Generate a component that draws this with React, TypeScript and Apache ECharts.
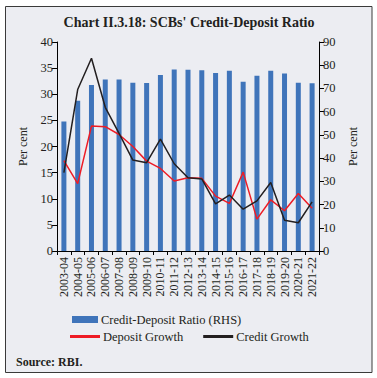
import React, { useEffect, useRef } from "react";
import * as echarts from "echarts";

const categories = [
  "2003-04", "2004-05", "2005-06", "2006-07", "2007-08", "2008-09", "2009-10",
  "2010-11", "2011-12", "2012-13", "2013-14", "2014-15", "2015-16", "2016-17",
  "2017-18", "2018-19", "2019-20", "2020-21", "2021-22",
];
const cdRatio = [55.8, 64.7, 71.5, 73.9, 73.8, 72.5, 72.3, 75.8, 78.2, 78.0, 77.8, 76.6, 77.6, 72.9, 75.5, 77.6, 76.4, 72.5, 72.2];
const depositGrowth = [17.3, 12.9, 23.9, 23.8, 22.3, 20.0, 17.2, 15.8, 13.4, 14.0, 13.9, 10.5, 9.1, 15.1, 6.1, 9.8, 7.7, 11.0, 8.2];
const creditGrowth = [15.0, 30.9, 36.9, 27.5, 22.5, 17.4, 16.9, 21.4, 16.7, 14.0, 13.8, 9.0, 10.7, 8.0, 9.6, 13.1, 5.9, 5.4, 9.4];

const SERIF = "'Liberation Serif', 'DejaVu Serif', serif";
const TXT = "#231f20";

export default function App() {
  const ref = useRef<HTMLDivElement>(null);
  useEffect(() => {
    if (!ref.current) return;
    const chart = echarts.init(ref.current, undefined, { renderer: "svg" });
    const axisCommon = {
      axisLine: { show: true, lineStyle: { color: "#000", width: 1 } },
      axisTick: { show: true, length: 5, lineStyle: { color: "#000" } },
      splitLine: { show: false },
      axisLabel: { fontFamily: SERIF, fontSize: 12.5, color: TXT, margin: 4 },
      nameLocation: "middle" as const,
      nameTextStyle: { fontFamily: SERIF, fontSize: 12, color: TXT },
    };
    chart.setOption({
      animation: false,
      backgroundColor: "#ffffff",
      graphic: [
        {
          type: "rect",
          shape: { x: 5.5, y: 6.5, width: 366.5, height: 366 },
          style: { fill: "#ecedf2", stroke: "#3a3a3a", lineWidth: 1 },
          z: -10,
          silent: true,
        },
        {
          type: "text",
          x: 189,
          y: 22,
          style: {
            text: "Chart II.3.18: SCBs' Credit-Deposit Ratio",
            fontFamily: SERIF,
            fontWeight: "bold",
            fontSize: 14,
            fill: TXT,
            align: "center",
            verticalAlign: "middle",
          },
        },
        {
          type: "text",
          x: 16,
          y: 362,
          style: {
            text: "Source: RBI.",
            fontFamily: SERIF,
            fontWeight: "bold",
            fontSize: 12,
            fill: TXT,
            align: "left",
            verticalAlign: "middle",
          },
        },
      ],
      grid: { left: 57, right: 58, top: 42, bottom: 127, containLabel: false },
      legend: [
        {
          data: ["Credit-Deposit Ratio (RHS)"],
          left: 72,
          top: 313,
          itemWidth: 26,
          itemHeight: 7,
          itemGap: 20,
          padding: 0,
          textStyle: { fontFamily: SERIF, fontSize: 12.5, color: TXT, padding: [0, 0, 0, -2] },
          icon: "rect",
        },
        {
          data: ["Deposit Growth", "Credit Growth"],
          left: 70,
          top: 330,
          itemWidth: 30,
          itemHeight: 3,
          itemGap: 20,
          padding: 0,
          textStyle: { fontFamily: SERIF, fontSize: 12.5, color: TXT, padding: [0, 0, 0, -2] },
          icon: "rect",
        },
      ],
      xAxis: {
        type: "category",
        data: categories,
        boundaryGap: true,
        axisLine: { show: true, lineStyle: { color: "#000", width: 1 } },
        axisTick: { show: true, length: 4, alignWithLabel: false, lineStyle: { color: "#000" } },
        axisLabel: { rotate: 90, interval: 0, fontFamily: SERIF, fontSize: 12, color: TXT, margin: 6 },
        splitLine: { show: false },
      },
      yAxis: [
        {
          ...axisCommon,
          type: "value",
          min: 0,
          max: 40,
          interval: 5,
          position: "left",
          name: "Per cent",
          nameGap: 28,
        },
        {
          ...axisCommon,
          type: "value",
          min: 0,
          max: 90,
          interval: 10,
          position: "right",
          name: "Per cent",
          nameGap: 28,
        },
      ],
      series: [
        {
          name: "Credit-Deposit Ratio (RHS)",
          type: "bar",
          yAxisIndex: 1,
          data: cdRatio,
          barWidth: 5,
          itemStyle: { color: "#3f74ba" },
        },
        {
          name: "Deposit Growth",
          type: "line",
          yAxisIndex: 0,
          data: depositGrowth,
          symbol: "none",
          lineStyle: { color: "#ee1c25", width: 1.5 },
          itemStyle: { color: "#ee1c25" },
        },
        {
          name: "Credit Growth",
          type: "line",
          yAxisIndex: 0,
          data: creditGrowth,
          symbol: "none",
          lineStyle: { color: "#231f20", width: 1.5 },
          itemStyle: { color: "#231f20" },
        },
      ],
    });
    return () => chart.dispose();
  }, []);
  return (
    <div
      ref={ref}
      style={{ position: "absolute", left: 0, top: 0, width: 377, height: 378 }}
    />
  );
}
